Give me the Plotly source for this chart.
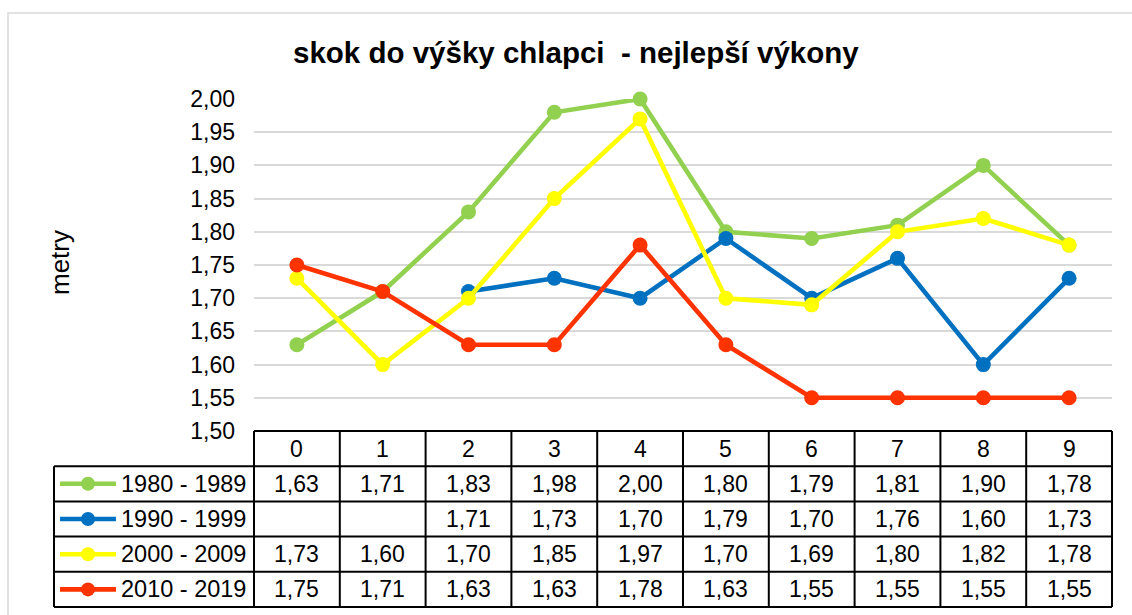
import plotly.graph_objects as go

# ---------------- data ----------------
categories = ["0", "1", "2", "3", "4", "5", "6", "7", "8", "9"]
series_names = ["1980 - 1989", "1990 - 1999", "2000 - 2009", "2010 - 2019"]
v1980 = [1.63, 1.71, 1.83, 1.98, 2.00, 1.80, 1.79, 1.81, 1.90, 1.78]
v1990 = [None, None, 1.71, 1.73, 1.70, 1.79, 1.70, 1.76, 1.60, 1.73]
v2000 = [1.73, 1.60, 1.70, 1.85, 1.97, 1.70, 1.69, 1.80, 1.82, 1.78]
v2010 = [1.75, 1.71, 1.63, 1.63, 1.78, 1.63, 1.55, 1.55, 1.55, 1.55]
series_values = [v1980, v1990, v2000, v2010]
colors = ["#92D050", "#0070C0", "#FFFF00", "#FF3300"]
y_ticks = [1.50, 1.55, 1.60, 1.65, 1.70, 1.75, 1.80, 1.85, 1.90, 1.95, 2.00]
title_text = "skok do výšky chlapci \u00a0- nejlepší výkony"
y_title = "metry"

# ---------------- layout geometry (pixels) ----------------
W, H = 1132, 615
PLOT_L, PLOT_R = 254, 1112
PLOT_T, PLOT_B = 99, 431
TABLE_L = 54
TABLE_T, TABLE_B = 431, 607
PAD = 4
FONT = "Liberation Sans, Arial, sans-serif"
FS = 23
LW = 4.6
MS = 15

n = len(categories)
unit = (PLOT_R - PLOT_L) / n          # px per category
nrows = 1 + len(series_names)
rh = (TABLE_B - TABLE_T) / nrows      # px per table row

def fx(px):
    return px / W

def fy(px):
    return (H - px) / H

def x2_of_px(px):
    return -0.5 - (PLOT_L - px) / unit

leg_left = x2_of_px(TABLE_L)

fig = go.Figure()

xs = list(range(n))
for name, vals, col in zip(series_names, series_values, colors):
    fig.add_trace(go.Scatter(
        x=xs, y=vals, name=name, mode="lines+markers",
        line=dict(color=col, width=LW),
        marker=dict(color=col, size=MS, line=dict(width=0)),
        connectgaps=False, cliponaxis=False,
        xaxis="x", yaxis="y", hoverinfo="skip",
    ))

# legend swatches inside the table's first column
sw_x = [x2_of_px(60), x2_of_px(116)]
sw_mid = [x2_of_px(88)]
for r, (name, col) in enumerate(zip(series_names, colors), start=1):
    fig.add_trace(go.Scatter(
        x=sw_x, y=[r, r], mode="lines",
        line=dict(color=col, width=LW),
        xaxis="x2", yaxis="y2", hoverinfo="skip", showlegend=False,
    ))
    fig.add_trace(go.Scatter(
        x=sw_mid, y=[r], mode="markers",
        marker=dict(color=col, size=MS - 1, line=dict(width=0)),
        xaxis="x2", yaxis="y2", hoverinfo="skip", showlegend=False,
    ))

shapes = []
line_style = dict(color="black", width=2)
shapes.append(dict(type="line", xref="x2", yref="y2", x0=-0.5, x1=n - 0.5,
                   y0=-0.5, y1=-0.5, line=line_style))
for r in range(nrows):
    shapes.append(dict(type="line", xref="x2", yref="y2", x0=leg_left, x1=n - 0.5,
                       y0=r + 0.5, y1=r + 0.5, line=line_style))
for c in range(n + 1):
    shapes.append(dict(type="line", xref="x2", yref="y2", x0=c - 0.5, x1=c - 0.5,
                       y0=-0.5, y1=nrows - 0.5, line=line_style))
shapes.append(dict(type="line", xref="x2", yref="y2", x0=leg_left, x1=leg_left,
                   y0=0.5, y1=nrows - 0.5, line=line_style))
shapes.append(dict(type="rect", xref="paper", yref="paper",
                   x0=fx(8), x1=1.2, y0=-0.2, y1=fy(13),
                   line=dict(color="#D9D9D9", width=1.5), layer="below"))

annotations = []
tf = dict(family=FONT, size=FS, color="black")
for i, c in enumerate(categories):
    annotations.append(dict(xref="x2", yref="y2", x=i, y=0, text=c, showarrow=False,
                            font=tf, xanchor="center", yanchor="middle"))
for r, (name, vals) in enumerate(zip(series_names, series_values), start=1):
    annotations.append(dict(xref="x2", yref="y2", x=x2_of_px(119), y=r, text=name,
                            showarrow=False, font=dict(family=FONT, size=23.5, color="black"),
                            xanchor="left", yanchor="middle"))
    for i, v in enumerate(vals):
        if v is None:
            continue
        annotations.append(dict(xref="x2", yref="y2", x=i, y=r,
                                text=f"{v:.2f}".replace(".", ","), showarrow=False,
                                font=tf, xanchor="center", yanchor="middle"))

annotations.append(dict(xref="paper", yref="paper", x=fx(576), y=fy(52),
                        text=f"<b>{title_text}</b>", showarrow=False,
                        font=dict(family=FONT, size=29.5, color="black"),
                        xanchor="center", yanchor="middle"))
annotations.append(dict(xref="paper", yref="paper", x=fx(60), y=fy(263),
                        text=y_title, textangle=-90, showarrow=False,
                        font=dict(family=FONT, size=26, color="black"),
                        xanchor="center", yanchor="middle"))

fig.update_layout(
    width=W, height=H,
    margin=dict(l=0, r=0, t=0, b=0, pad=0, autoexpand=False),
    paper_bgcolor="white", plot_bgcolor="rgba(0,0,0,0)",
    showlegend=False,
    xaxis=dict(domain=[fx(PLOT_L), fx(PLOT_R)], range=[-0.5, n - 0.5],
               showgrid=False, zeroline=False, showline=False, automargin=False,
               showticklabels=False, ticks="", fixedrange=True),
    yaxis=dict(domain=[fy(PLOT_B), fy(PLOT_T)], range=[y_ticks[0], y_ticks[-1]],
               tickvals=y_ticks,
               ticktext=[f"{t:.2f}".replace(".", ",") for t in y_ticks],
               showgrid=True, gridcolor="#D9D9D9", gridwidth=1.5,
               zeroline=False, showline=False, ticks="", automargin=False,
               ticklabelstandoff=18,
               tickfont=dict(family=FONT, size=FS, color="black"),
               fixedrange=True),
    xaxis2=dict(domain=[fx(TABLE_L - PAD), fx(PLOT_R + PAD)],
                range=[x2_of_px(TABLE_L - PAD), x2_of_px(PLOT_R + PAD)],
                anchor="y2", visible=False, automargin=False, fixedrange=True),
    yaxis2=dict(domain=[fy(TABLE_B + PAD), fy(TABLE_T - PAD)],
                range=[nrows - 0.5 + PAD / rh, -0.5 - PAD / rh],
                anchor="x2", visible=False, automargin=False, fixedrange=True),
    shapes=shapes,
    annotations=annotations,
)

fig.write_html(
    "out.html",
    config={"displayModeBar": False},
    post_script="document.body.style.margin='0';document.body.style.overflow='hidden';",
)
